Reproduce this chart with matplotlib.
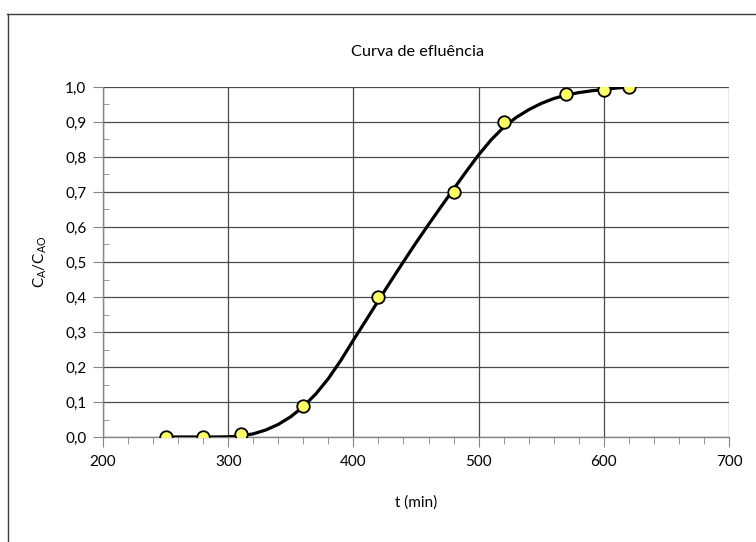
import matplotlib
matplotlib.use("Agg")
import matplotlib.pyplot as plt
from matplotlib.ticker import MultipleLocator, FuncFormatter
from matplotlib.lines import Line2D

# measured data points
t_data = [250, 280, 310, 360, 420, 480, 520, 570, 600, 620]
c_data = [0.0, 0.0, 0.01, 0.09, 0.40, 0.70, 0.90, 0.98, 0.99, 1.00]

# fitted curve
t_fit = [250, 260, 270, 280, 290, 300, 310, 320, 330, 340, 350, 360, 370, 380,
         390, 400, 410, 420, 430, 440, 450, 460, 470, 480, 490, 500, 510, 520,
         530, 540, 550, 560, 570, 580, 590, 600, 610, 620]
c_fit = [0.0, 0.0, 0.0, 0.0, 0.0, 0.0005, 0.003, 0.009, 0.02, 0.036, 0.058, 0.087,
         0.123, 0.167, 0.219, 0.277, 0.333, 0.39, 0.446, 0.501, 0.555, 0.607,
         0.658, 0.708, 0.758, 0.806, 0.849, 0.885, 0.913, 0.935, 0.953, 0.967,
         0.977, 0.984, 0.989, 0.993, 0.997, 1.0]

title = "Curva de efluência"
xlabel = "t (min)"
ylabel = r"$\mathregular{C_A/C_{AO}}$"

plt.rcParams['font.family'] = ['Lato', 'DejaVu Sans']
plt.rcParams['mathtext.default'] = 'regular'

fig = plt.figure(figsize=(7.56, 5.42), dpi=100)
ax = fig.add_axes([103/756, 105/542, 626/756, 350/542])

ax.plot(t_fit, c_fit, color='black', lw=2.3, zorder=3, solid_capstyle='round',
        solid_joinstyle='round')
ax.plot(t_data, c_data, 'o', ms=9, mfc='#FFFF66', mec='black', mew=1.3, zorder=4)

ax.set_xlim(200, 700)
ax.set_ylim(0, 1.0)
ax.xaxis.set_major_locator(MultipleLocator(100))
ax.xaxis.set_minor_locator(MultipleLocator(20))
ax.yaxis.set_major_locator(MultipleLocator(0.1))
ax.yaxis.set_minor_locator(MultipleLocator(0.05))
ax.yaxis.set_major_formatter(FuncFormatter(lambda v, p: f"{v:.1f}".replace('.', ',')))

ax.grid(True, which='major', color='#4a4a4a', lw=0.9, zorder=1)
for s in ['top', 'right']:
    ax.spines[s].set_visible(False)
for s in ['left', 'bottom']:
    ax.spines[s].set_color('#868686')
    ax.spines[s].set_linewidth(1.0)

ax.tick_params(axis='x', which='major', direction='out', length=7, color='#868686',
               labelsize=11, pad=6)
ax.tick_params(axis='x', which='minor', direction='out', length=5, color='#868686')
ax.tick_params(axis='y', which='major', direction='out', length=7, color='#868686',
               labelsize=11, pad=5)
ax.tick_params(axis='y', which='minor', direction='in', length=4, color='#868686')

fig.text(417/756, 1 - 52/542, title, ha='center', va='center', fontsize=11.7)
fig.text(416/756, 1 - 503/542, xlabel, ha='center', va='center', fontsize=11)
fig.text(40/756, 1 - 262/542, ylabel, ha='center', va='center', fontsize=11,
         rotation=90)

# chart area border
fig.add_artist(Line2D([7.5/756, 7.5/756], [0, 1 - 13.5/542], transform=fig.transFigure,
                      color='#3c3c3c', lw=1.0))
fig.add_artist(Line2D([7/756, 1], [1 - 13.5/542, 1 - 13.5/542], transform=fig.transFigure,
                      color='#3c3c3c', lw=1.0))

fig.savefig("out.png", dpi=100)
